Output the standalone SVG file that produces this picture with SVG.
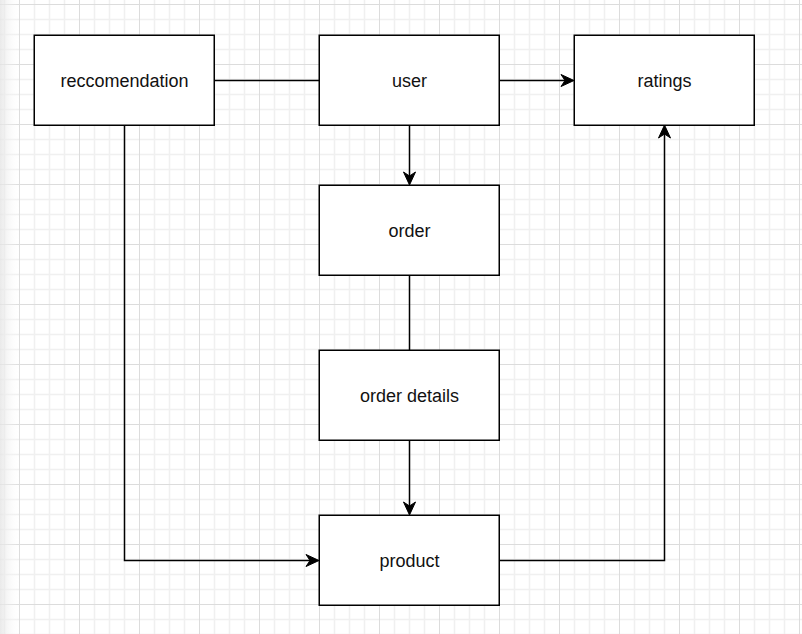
<svg xmlns="http://www.w3.org/2000/svg" width="802" height="634" viewBox="0 0 802 634">
  <defs>
    <pattern id="grid" x="19" y="4" width="60" height="60" patternUnits="userSpaceOnUse">
      <path d="M15.5,0V60M30.5,0V60M45.5,0V60M0,15.5H60M0,30.5H60M0,45.5H60" stroke="#f0f0f0" stroke-width="1.5" fill="none"/>
      <path d="M0.5,0V60M0,0.5H60" stroke="#dcdcdc" stroke-width="1" fill="none"/>
    </pattern>
    <linearGradient id="shade" x1="0" y1="0" x2="1" y2="0">
      <stop offset="0" stop-color="#e4e4e4" stop-opacity="0.8"/>
      <stop offset="1" stop-color="#ffffff" stop-opacity="0"/>
    </linearGradient>
    <marker id="arrow" markerUnits="userSpaceOnUse" markerWidth="14" markerHeight="14" refX="4" refY="7" orient="auto" overflow="visible">
      <path d="M0,1 L13,7 L0,13 L4,7 Z" fill="#000" stroke="#000" stroke-width="1" stroke-linejoin="miter"/>
    </marker>
    <style>
      .box { fill: #ffffff; stroke: #000000; stroke-width: 1.5; }
      .lbl { font-family: "Liberation Sans", Arial, sans-serif; font-size: 18px; fill: #111111; text-anchor: middle; }
      .edge { fill: none; stroke: #000000; stroke-width: 1.5; }
    </style>
  </defs>

  <rect x="0" y="0" width="802" height="634" fill="#ffffff"/>
  <rect x="0" y="0" width="802" height="634" fill="url(#grid)"/>
  <rect x="0" y="0" width="20" height="634" fill="url(#shade)"/>

  <g id="connectors">
    <path class="edge" d="M214,80.5 H319"/>
    <path class="edge" d="M499,80.5 H565" marker-end="url(#arrow)"/>
    <path class="edge" d="M409.5,125 V176" marker-end="url(#arrow)"/>
    <path class="edge" d="M409.5,275 V350"/>
    <path class="edge" d="M409.5,440 V506" marker-end="url(#arrow)"/>
    <path class="edge" d="M124.5,125 V560.5 H310" marker-end="url(#arrow)"/>
    <path class="edge" d="M499,560.5 H664.5 V134" marker-end="url(#arrow)"/>
  </g>

  <g id="reccomendation">
    <rect class="box" x="34.25" y="35.25" width="180" height="90"/>
    <text class="lbl" x="124.5" y="87">reccomendation</text>
  </g>
  <g id="user">
    <rect class="box" x="319.25" y="35.25" width="180" height="90"/>
    <text class="lbl" x="409.5" y="87">user</text>
  </g>
  <g id="ratings">
    <rect class="box" x="574.25" y="35.25" width="180" height="90"/>
    <text class="lbl" x="664.5" y="87">ratings</text>
  </g>
  <g id="order">
    <rect class="box" x="319.25" y="185.25" width="180" height="90"/>
    <text class="lbl" x="409.5" y="237">order</text>
  </g>
  <g id="order-details">
    <rect class="box" x="319.25" y="350.25" width="180" height="90"/>
    <text class="lbl" x="409.5" y="402">order details</text>
  </g>
  <g id="product">
    <rect class="box" x="319.25" y="515.25" width="180" height="90"/>
    <text class="lbl" x="409.5" y="567">product</text>
  </g>
</svg>
